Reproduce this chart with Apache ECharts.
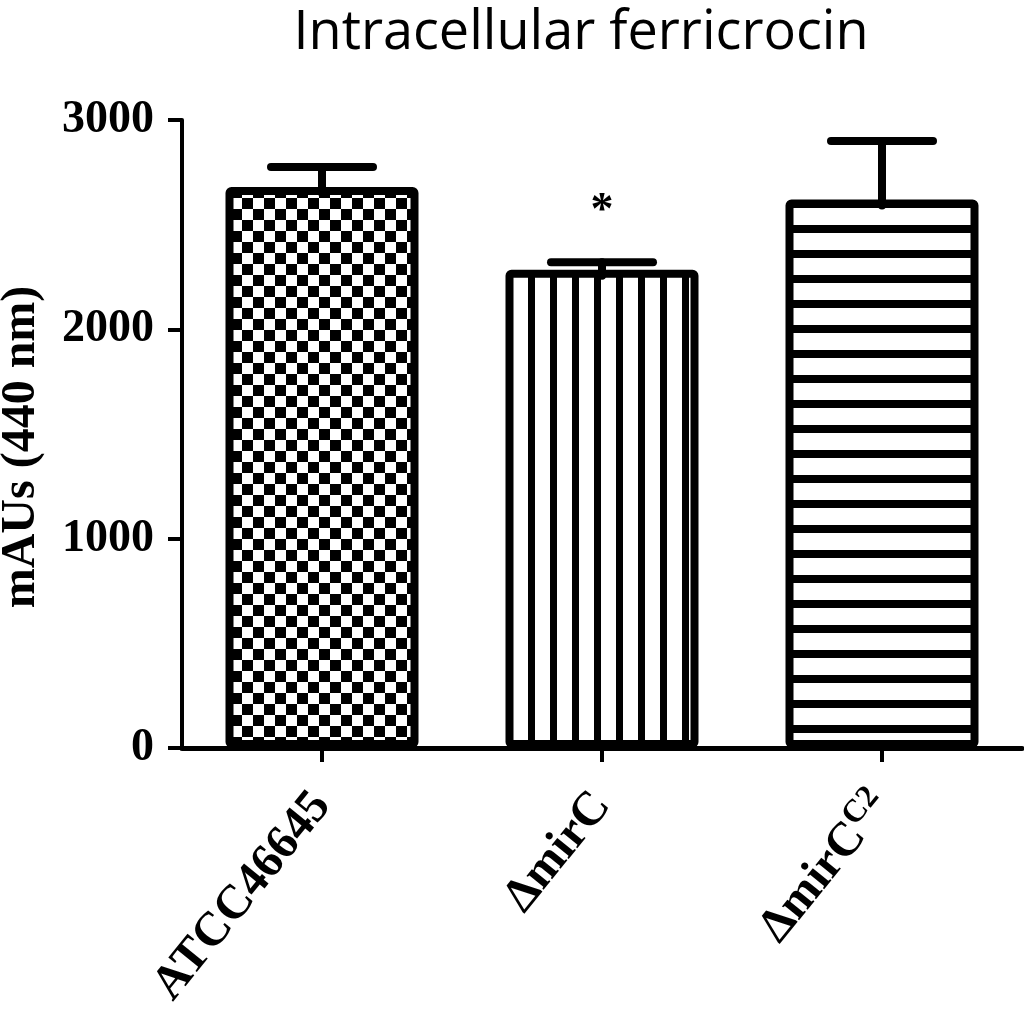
<!DOCTYPE html>
<html>
<head>
<meta charset="utf-8">
<script src="https://cdn.jsdelivr.net/npm/echarts@6/dist/echarts.min.js"></script>
<style>
html,body{margin:0;padding:0;background:#fff;}
#chart{width:1024px;height:1024px;}
</style>
</head>
<body>
<div id="chart"></div>
<script>
// ---- data ----
var categories = ['ATCC46645', 'ΔmirC', 'ΔmirC{sup|C2}'];
var meanValues = [2680, 2285, 2620];
var errorValues = [96, 35, 280];
var significance = ['', '*', ''];
var yTicks = [0, 1000, 2000, 3000];
var titleText = 'Intracellular ferricrocin';
var yAxisTitle = 'mAUs (440 nm)';

// ---- patterns ----
function checker(cell) {
  var c = document.createElement('canvas');
  c.width = cell * 2; c.height = cell * 2;
  var g = c.getContext('2d');
  g.fillStyle = '#fff'; g.fillRect(0, 0, c.width, c.height);
  g.fillStyle = '#000';
  g.fillRect(0, 0, cell, cell);
  g.fillRect(cell, cell, cell, cell);
  return c;
}
function vstripes(period, w) {
  var c = document.createElement('canvas');
  c.width = period; c.height = 4;
  var g = c.getContext('2d');
  g.fillStyle = '#fff'; g.fillRect(0, 0, c.width, c.height);
  g.fillStyle = '#000'; g.fillRect(0, 0, w, c.height);
  return c;
}
function hstripes(period, w) {
  var c = document.createElement('canvas');
  c.width = 4; c.height = period;
  var g = c.getContext('2d');
  g.fillStyle = '#fff'; g.fillRect(0, 0, c.width, c.height);
  g.fillStyle = '#000'; g.fillRect(0, 0, c.width, w);
  return c;
}
var patterns = [
  { image: checker(11), repeat: 'repeat' },
  { image: vstripes(22, 7), repeat: 'repeat' },
  { image: hstripes(25, 8), repeat: 'repeat' }
];

var chart = echarts.init(document.getElementById('chart'), null, { renderer: 'canvas' });

var serif = '"Liberation Serif", "DejaVu Serif", serif';

var option = {
  animation: false,
  backgroundColor: '#fff',
  title: {
    text: titleText,
    left: 576,
    top: 2,
    textAlign: 'center',
    textStyle: { fontFamily: '"Open Sans", "Noto Sans", sans-serif', fontWeight: 'normal', fontSize: 54, color: '#000' }
  },
  grid: { left: 182, right: 2, top: 120, bottom: 276, containLabel: false, outerBoundsMode: 'none' },
  xAxis: {
    type: 'category',
    data: categories,
    axisLine: { lineStyle: { color: '#000', width: 5 } },
    axisTick: { show: true, alignWithLabel: true, length: 14, lineStyle: { color: '#000', width: 4 } },
    axisLabel: {
      interval: 0,
      rotate: 51,
      margin: 50,
      color: '#000',
      fontFamily: serif,
      fontWeight: 'bold',
      fontSize: 48,
      rich: {
        sup: { fontFamily: serif, fontWeight: 'bold', fontSize: 32, verticalAlign: 'bottom', padding: [0, 0, 22, 0] }
      }
    }
  },
  yAxis: {
    type: 'value',
    min: yTicks[0],
    max: yTicks[yTicks.length - 1],
    interval: 1000,
    name: yAxisTitle,
    nameLocation: 'middle',
    nameGap: 136,
    nameTextStyle: { fontFamily: serif, fontWeight: 'bold', fontSize: 48, color: '#000', padding: [0, 26, 0, 0] },
    splitLine: { show: false },
    axisLine: { show: true, lineStyle: { color: '#000', width: 4 } },
    axisTick: { show: true, length: 14, lineStyle: { color: '#000', width: 4 } },
    axisLabel: {
      margin: 28, color: '#000', fontFamily: serif, fontWeight: 'bold', fontSize: 46,
      formatter: function (v) { return String(v); }
    }
  },
  series: [
    {
      type: 'bar',
      barWidth: 193,
      data: meanValues.map(function (v, i) {
        return {
          value: v,
          itemStyle: { color: patterns[i], borderColor: '#000', borderWidth: 8, borderRadius: 2 }
        };
      }),
      z: 2
    },
    {
      type: 'custom',
      z: 3,
      data: meanValues.map(function (v, i) { return [i, v, errorValues[i]]; }),
      renderItem: function (params, api) {
        var i = api.value(0);
        var base = api.coord([i, api.value(1)]);
        var hi = api.coord([i, api.value(1) + api.value(2)]);
        var half = 51;
        var style = { stroke: '#000', lineWidth: 8, lineCap: 'round' };
        var children = [
          { type: 'line', shape: { x1: base[0], y1: base[1] + 6, x2: hi[0], y2: hi[1] }, style: style },
          { type: 'line', shape: { x1: hi[0] - half, y1: hi[1], x2: hi[0] + half, y2: hi[1] }, style: style }
        ];
        var sig = significance[params.dataIndex];
        if (sig) {
          children.push({
            type: 'text',
            style: {
              text: sig, x: hi[0], y: hi[1] - 50, align: 'center', verticalAlign: 'middle',
              fontFamily: serif, fontWeight: 'bold', fontSize: 46, fill: '#000'
            }
          });
        }
        return { type: 'group', children: children };
      }
    }
  ]
};
chart.setOption(option);
</script>
</body>
</html>
